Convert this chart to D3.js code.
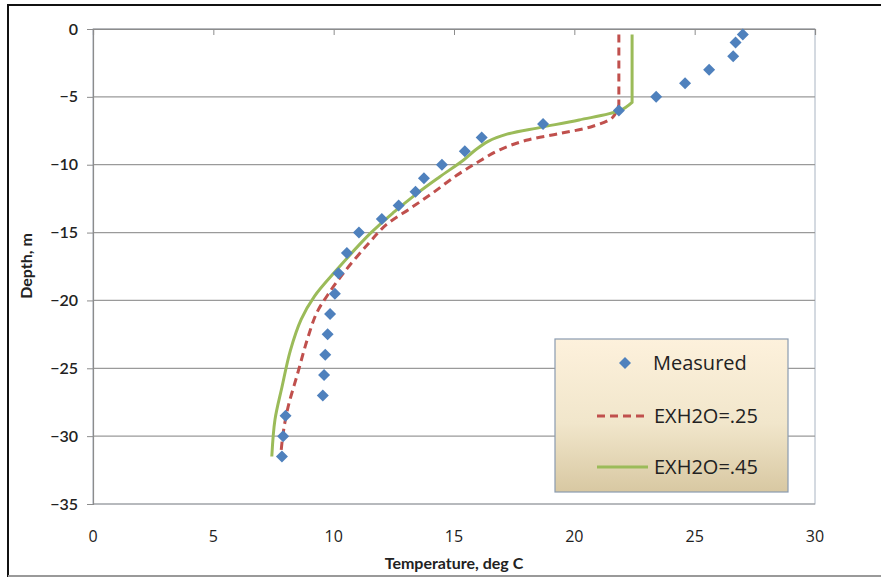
<!DOCTYPE html>
<html>
<head>
<meta charset="utf-8">
<script src="https://cdn.jsdelivr.net/npm/d3@7"></script>
<style>
  body { margin: 0; background: #fff; }
  svg text { font-family: "Open Sans", "Lato", sans-serif; fill: #222; }
</style>
</head>
<body>
<div id="chart"></div>
<script>
// ── Data ───────────────────────────────────────────────────────────────────────

const xTicks = [0, 5, 10, 15, 20, 25, 30];
const yTicks = [0, -5, -10, -15, -20, -25, -30, -35];

// measured profile: temperature (deg C) vs depth (m)
const measuredTemp  = [27.0, 26.7, 26.6, 25.6, 24.6, 23.4, 21.85, 18.7, 16.15, 15.45, 14.5, 13.75, 13.4, 12.7, 12.0, 11.05, 10.55, 10.2, 10.05, 9.85, 9.75, 9.65, 9.6, 9.55, 8.0, 7.9, 7.85];
const measuredDepth = [-0.4, -1, -2, -3, -4, -5, -6, -7, -8, -9, -10, -11, -12, -13, -14, -15, -16.5, -18, -19.5, -21, -22.5, -24, -25.5, -27, -28.5, -30, -31.5];

// model EXH2O=.25 (first two points = isothermal surface layer)
const exh25Temp  = [21.85, 21.85, 21.6, 20.8, 19.4, 18.0, 16.9, 16.0, 15.1, 14.1, 13.2, 12.2, 11.4, 10.4, 9.75, 9.3, 8.9, 8.5, 8.1, 7.9, 7.8];
const exh25Depth = [-0.4, -5.6, -6.5, -7.15, -7.7, -8.2, -8.9, -9.8, -10.8, -12.1, -13.2, -14.4, -15.9, -18.0, -19.6, -20.9, -22.9, -25.4, -27.9, -29.8, -31.4];

// model EXH2O=.45
const exh45Temp  = [22.4, 22.4, 21.9, 20.2, 18.6, 17.2, 16.4, 15.9, 15.4, 14.4, 13.4, 12.5, 11.5, 10.1, 9.2, 8.65, 8.2, 7.85, 7.56, 7.43];
const exh45Depth = [-0.4, -5.4, -6.0, -6.7, -7.25, -7.75, -8.3, -8.9, -9.65, -10.9, -12.2, -13.5, -15.1, -17.8, -19.7, -21.4, -23.7, -26.4, -28.8, -31.5];

const legendLabels = ["Measured", "EXH2O=.25", "EXH2O=.45"];

// ── Layout ─────────────────────────────────────────────────────────────────────

const W = 881, H = 580;
const plot = { left: 93, right: 815, top: 29, bottom: 504 };

const svg = d3.select("#chart").append("svg")
    .attr("width", W)
    .attr("height", H);

svg.append("rect").attr("width", W).attr("height", H).attr("fill", "#fff");

// outer chart frame (cut off on the right as in the source)
svg.append("path")
    .attr("d", `M${W + 5},5 H8 V576 H${W + 5}`)
    .attr("fill", "none")
    .attr("stroke", "#111")
    .attr("stroke-width", 2);
svg.append("line")
    .attr("x1", 8).attr("x2", W).attr("y1", 576).attr("y2", 576)
    .attr("stroke", "#999").attr("stroke-width", 2);

const x = d3.scaleLinear().domain([0, 30]).range([plot.left, plot.right]);
const y = d3.scaleLinear().domain([-35, 0]).range([plot.bottom, plot.top]);

// plot area border
svg.append("rect")
    .attr("x", plot.left).attr("y", plot.top)
    .attr("width", plot.right - plot.left).attr("height", plot.bottom - plot.top)
    .attr("fill", "#fff")
    .attr("stroke", "#a9b4c2")
    .attr("stroke-width", 1);

// ── Grid & axes ────────────────────────────────────────────────────────────────

svg.append("g")
    .selectAll("line")
    .data(yTicks)
    .join("line")
    .attr("x1", plot.left).attr("x2", plot.right)
    .attr("y1", d => y(d)).attr("y2", d => y(d))
    .attr("stroke", "#9a9a9a")
    .attr("stroke-width", 1.2);

const yAxis = svg.append("g")
    .attr("transform", `translate(${plot.left},0)`)
    .call(d3.axisLeft(y).tickValues(yTicks).tickSize(6).tickPadding(9));
yAxis.select(".domain").attr("stroke", "#8c8c8c").attr("stroke-width", 1.2);
yAxis.selectAll(".tick line").attr("stroke", "#8c8c8c");
yAxis.selectAll(".tick text")
    .attr("font-size", 16)
    .attr("font-weight", 600)
    .style("font-family", "Lato, 'Open Sans', sans-serif")
    .attr("fill", "#222");

// horizontal axis crosses at depth 0 (top), labels sit below the plot
const xAxis = svg.append("g")
    .attr("transform", `translate(0,${y(0)})`)
    .call(d3.axisBottom(x).tickValues(xTicks).tickSize(6).tickFormat(""));
xAxis.select(".domain").attr("stroke", "#8c8c8c").attr("stroke-width", 1.2);
xAxis.selectAll(".tick line").attr("stroke", "#8c8c8c");

svg.append("g")
    .selectAll("text")
    .data(xTicks)
    .join("text")
    .attr("x", d => x(d))
    .attr("y", 542)
    .attr("text-anchor", "middle")
    .attr("font-size", 16)
    .style("font-family", "'Liberation Sans Narrow', 'Open Sans', sans-serif")
    .text(d => d);

svg.append("text")
    .attr("x", 454).attr("y", 569)
    .attr("text-anchor", "middle")
    .attr("font-size", 16)
    .attr("font-weight", 700)
    .style("font-family", "Lato, 'Open Sans', sans-serif")
    .text("Temperature, deg C");

svg.append("text")
    .attr("transform", `translate(32,266) rotate(-90)`)
    .attr("text-anchor", "middle")
    .attr("font-size", 16)
    .attr("font-weight", 700)
    .style("font-family", "Lato, 'Open Sans', sans-serif")
    .text("Depth, m");

// ── Series ─────────────────────────────────────────────────────────────────────

const straight = d3.line()
    .x(d => x(d[0]))
    .y(d => y(d[1]));

const smooth = d3.line()
    .x(d => x(d[0]))
    .y(d => y(d[1]))
    .curve(d3.curveCatmullRom.alpha(0.5));

// straight isothermal top, smooth curve below the corner
function profilePath(pts) {
    return straight(pts.slice(0, 2)) + smooth(pts.slice(1)).replace(/^M/, "L");
}

const exh25 = exh25Temp.map((t, i) => [t, exh25Depth[i]]);
const exh45 = exh45Temp.map((t, i) => [t, exh45Depth[i]]);
const measured = measuredTemp.map((t, i) => [t, measuredDepth[i]]);

svg.append("path")
    .datum(exh25)
    .attr("d", profilePath)
    .attr("fill", "none")
    .attr("stroke", "#c0504d")
    .attr("stroke-width", 3)
    .attr("stroke-dasharray", "8,5");

svg.append("path")
    .datum(exh45)
    .attr("d", profilePath)
    .attr("fill", "none")
    .attr("stroke", "#9bbb59")
    .attr("stroke-width", 3);

const diamond = d3.symbol().type(d3.symbolSquare).size(72);

svg.append("g")
    .selectAll("path")
    .data(measured)
    .join("path")
    .attr("d", diamond)
    .attr("transform", d => `translate(${x(d[0])},${y(d[1])}) rotate(45)`)
    .attr("fill", "#4f81bd");

// ── Legend ─────────────────────────────────────────────────────────────────────

const defs = svg.append("defs");
const grad = defs.append("linearGradient")
    .attr("id", "legendFill")
    .attr("x1", 0).attr("x2", 0).attr("y1", 0).attr("y2", 1);
grad.append("stop").attr("offset", "0%").attr("stop-color", "#fdf1dc");
grad.append("stop").attr("offset", "55%").attr("stop-color", "#f1e6cb");
grad.append("stop").attr("offset", "100%").attr("stop-color", "#d8c8a2");

const legend = svg.append("g").attr("transform", "translate(555,339)");
legend.append("rect")
    .attr("width", 233).attr("height", 153)
    .attr("fill", "url(#legendFill)")
    .attr("stroke", "#8a9bb0")
    .attr("stroke-width", 1.2);

const rowY = [24, 77, 128];

legend.append("path")
    .attr("d", diamond)
    .attr("transform", `translate(70,${rowY[0]}) rotate(45)`)
    .attr("fill", "#4f81bd");

legend.append("line")
    .attr("x1", 42).attr("x2", 93)
    .attr("y1", rowY[1]).attr("y2", rowY[1])
    .attr("stroke", "#c0504d").attr("stroke-width", 3)
    .attr("stroke-dasharray", "8,5");

legend.append("line")
    .attr("x1", 42).attr("x2", 93)
    .attr("y1", rowY[2]).attr("y2", rowY[2])
    .attr("stroke", "#9bbb59").attr("stroke-width", 3);

legend.selectAll("text.lbl")
    .data(legendLabels)
    .join("text")
    .attr("class", "lbl")
    .attr("x", (d, i) => i === 0 ? 98 : 99)
    .attr("y", (d, i) => rowY[i] + 7)
    .attr("font-size", 20)
    .text(d => d);
</script>
</body>
</html>
